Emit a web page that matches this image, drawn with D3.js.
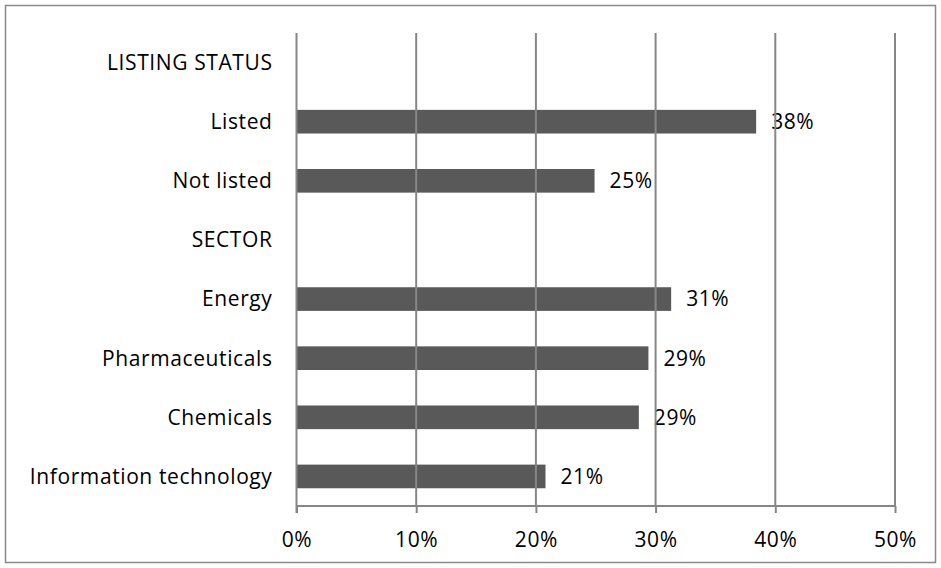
<!DOCTYPE html>
<html>
<head>
<meta charset="utf-8">
<script src="https://cdn.jsdelivr.net/npm/d3@7"></script>
<style>
  html, body { margin: 0; padding: 0; background: #fff; }
  svg { display: block; }
  text { font-family: "Open Sans", "Noto Sans", sans-serif; fill: #000; }
</style>
</head>
<body>
<svg id="chart" width="941" height="568"></svg>
<script>
// Row labels, top to bottom (group headings carry no bar)
const categories = [
  "LISTING STATUS",
  "Listed",
  "Not listed",
  "SECTOR",
  "Energy",
  "Pharmaceuticals",
  "Chemicals",
  "Information technology"
];
// Share per row; null for heading rows
const values = [null, 0.384, 0.249, null, 0.313, 0.294, 0.286, 0.208];
const xTicks = [0, 0.1, 0.2, 0.3, 0.4, 0.5];

const W = 941, H = 568;
const FONT = 21;
const margin = { left: 296.5, right: 46, top: 33, bottom: 62 };
const svg = d3.select("#chart");

// Outer frame
svg.append("rect")
  .attr("x", 5.5).attr("y", 5.5)
  .attr("width", W - 11).attr("height", H - 11)
  .attr("fill", "#fff").attr("stroke", "#898989").attr("stroke-width", 1.5);

const x = d3.scaleLinear().domain([0, 0.5]).range([margin.left, W - margin.right]);
const y = d3.scaleBand().domain(categories)
  .range([margin.top, H - margin.bottom])
  .paddingInner(0.6).paddingOuter(0.3);

const rows = categories.map((c, i) => ({ cat: c, v: values[i] }));
const barRows = rows.filter(d => d.v != null);

// Bars
svg.append("g").selectAll("rect").data(barRows).join("rect")
  .attr("x", x(0))
  .attr("y", d => y(d.cat))
  .attr("width", d => x(d.v) - x(0))
  .attr("height", y.bandwidth())
  .attr("fill", "#595959");

// Value labels
svg.append("g").selectAll("text").data(barRows).join("text")
  .attr("x", d => x(d.v) + 15)
  .attr("y", d => y(d.cat) + y.bandwidth() / 2)
  .attr("dy", "0.35em")
  .attr("font-size", FONT)
  .attr("letter-spacing", 0.6)
  .text(d => d3.format(".0%")(d.v));

// Vertical gridlines (drawn above labels)
svg.append("g").selectAll("line").data(xTicks.slice(1)).join("line")
  .attr("x1", d => x(d)).attr("x2", d => x(d))
  .attr("y1", margin.top).attr("y2", H - margin.bottom)
  .attr("stroke", "#868686").attr("stroke-width", 2);

// Bottom axis
const xAxis = d3.axisBottom(x).tickValues(xTicks)
  .tickFormat(d3.format(".0%")).tickSize(7).tickPadding(19);
const gx = svg.append("g")
  .attr("transform", `translate(0,${H - margin.bottom})`)
  .call(xAxis);
gx.select(".domain").attr("stroke", "#868686").attr("stroke-width", 2)
  .attr("d", `M${x(0)},0H${x(0.5)}`);
gx.selectAll(".tick line").attr("stroke", "#868686").attr("stroke-width", 2);
gx.selectAll(".tick text").attr("font-size", FONT)
  .attr("letter-spacing", 0.6)
  .attr("font-family", "\"Open Sans\", sans-serif").attr("fill", "#000");

// Left axis line
svg.append("line")
  .attr("x1", x(0)).attr("x2", x(0))
  .attr("y1", margin.top).attr("y2", H - margin.bottom + 7)
  .attr("stroke", "#868686").attr("stroke-width", 2);

// Category labels
svg.append("g").selectAll("text").data(rows).join("text")
  .attr("x", x(0) - 24)
  .attr("y", d => y(d.cat) + y.bandwidth() / 2)
  .attr("dy", "0.35em")
  .attr("text-anchor", "end")
  .attr("font-size", FONT)
  .attr("letter-spacing", 0.6)
  .text(d => d.cat);
</script>
</body>
</html>
